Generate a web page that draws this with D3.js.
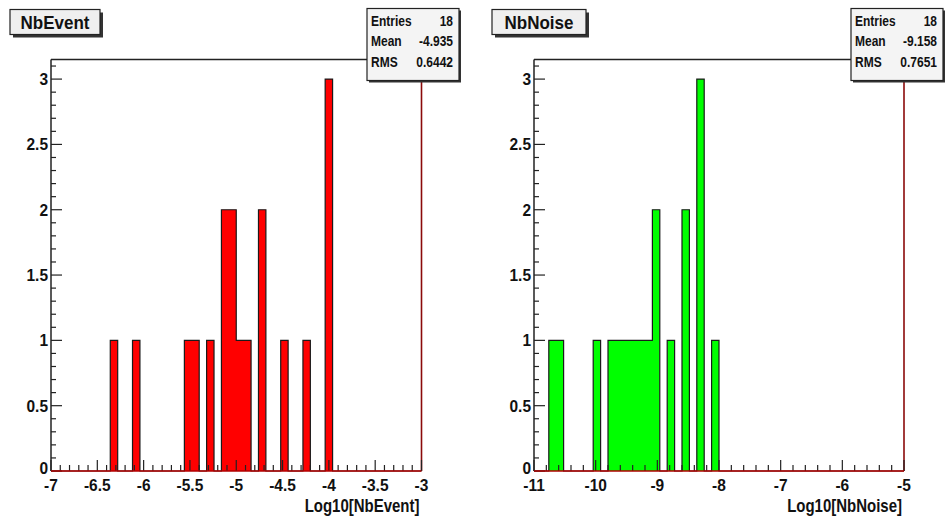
<!DOCTYPE html>
<html><head><meta charset="utf-8">
<script src="https://cdn.jsdelivr.net/npm/d3@7"></script>
<style>
body{margin:0;background:#fff}
svg{display:block}
text{font-family:"Liberation Sans",Arial,Helvetica,sans-serif;font-weight:bold;fill:#111}
</style>
</head><body>
<svg id="c" width="945" height="518"></svg>
<script>
// ---- data ----
const eventRange = [-7, -3];
const eventCounts = [0,0,0,0,0,0,0,0,1,0, 0,1,0,0,0,0,0,0,1,1, 0,1,0,2,2,1,1,0,2,0, 0,1,0,0,1,0,0,3,0,0, 0,0,0,0,0,0,0,0,0,0];
const eventXTickLabels = ["-7","-6.5","-6","-5.5","-5","-4.5","-4","-3.5","-3"];
const eventStatsLabels = ["Entries","Mean","RMS"];
const eventStatsValues = ["18","-4.935","0.6442"];

const noiseRange = [-11, -5];
const noiseCounts = [0,0,1,1,0,0,0,0,1,0, 1,1,1,1,1,1,2,0,1,0, 2,0,3,0,1,0,0,0,0,0, 0,0,0,0,0,0,0,0,0,0, 0,0,0,0,0,0,0,0,0,0];
const noiseXTickLabels = ["-11","-10","-9","-8","-7","-6","-5"];
const noiseStatsLabels = ["Entries","Mean","RMS"];
const noiseStatsValues = ["18","-9.158","0.7651"];

const yTickLabels = ["0","0.5","1","1.5","2","2.5","3"];
const yMax = 3.15;

const svg = d3.select("#c");

// text with vertical stretch (baseline at y)
function stxt(g, x, y, str, size, sy, anchor){
  return g.append("text")
    .attr("transform", `translate(${x},${y}) scale(1,${sy})`)
    .attr("text-anchor", anchor || "start")
    .attr("font-size", size).text(str);
}

function panel(o){
  const g = svg.append("g");
  const x = d3.scaleLinear().domain(o.range).range([o.x0, o.x1]);
  const y = d3.scaleLinear().domain([0, yMax]).range([o.y1, o.y0]);
  const n = o.counts.length;
  const w = (o.range[1]-o.range[0])/n;
  const pts = [];
  o.counts.forEach((c,i)=>{
    const a = o.range[0]+i*w, b = a+w;
    pts.push([a,c],[b,c]);
  });
  const line = d3.line().x(d=>x(d[0])).y(d=>y(d[1]));
  const area = d3.area().x(d=>x(d[0])).y0(y(0)).y1(d=>y(d[1]));
  g.append("path").attr("d", area(pts)).attr("fill", o.fill).attr("stroke","none");
  g.append("path").attr("d", line(pts)).attr("fill","none").attr("stroke","#1a1a1a").attr("stroke-width",1.2);

  // frame top & right
  g.append("line").attr("x1",o.x0).attr("x2",o.x1).attr("y1",o.y0).attr("y2",o.y0)
    .attr("stroke","#222").attr("stroke-width",1.5);
  g.append("line").attr("x1",o.x1).attr("x2",o.x1).attr("y1",o.y0).attr("y2",o.y1)
    .attr("stroke","#8b0a0a").attr("stroke-width",1.6);

  // y axis (ticks inward)
  const yMinor = d3.range(0, yMax+1e-9, 0.1).map(v=>+v.toFixed(2));
  g.selectAll(".ym").data(yMinor).enter().append("line")
    .attr("x1",o.x0).attr("x2",d=> (Math.abs(d*2-Math.round(d*2))<1e-6)? o.x0+11 : o.x0+5)
    .attr("y1",d=>y(d)).attr("y2",d=>y(d)).attr("stroke","#222").attr("stroke-width",1.2);
  g.append("line").attr("x1",o.x0).attr("x2",o.x0).attr("y1",o.y0).attr("y2",o.y1)
    .attr("stroke","#222").attr("stroke-width",1.5);
  yTickLabels.forEach(d=>{
    const v = +d;
    const yy = y(v) + 6 - (v===0 ? 3 : 0);
    stxt(g, o.x0-3, yy, d, 15.5, 1.1, "end");
  });

  // x axis (ticks upward)
  const xMinor = d3.range(o.range[0], o.range[1]+1e-9, o.minor).map(v=>+v.toFixed(3));
  g.selectAll(".xm").data(xMinor).enter().append("line")
    .attr("x1",d=>x(d)).attr("x2",d=>x(d)).attr("y1",o.y1)
    .attr("y2",d=> (Math.abs(d/o.major-Math.round(d/o.major))<1e-6)? o.y1-11 : o.y1-6)
    .attr("stroke","#222").attr("stroke-width",1.2);
  g.append("line").attr("x1",o.x0).attr("x2",o.x1).attr("y1",o.y1).attr("y2",o.y1)
    .attr("stroke","#b00000").attr("stroke-width",1.6);
  o.xLabels.forEach(d=>{
    stxt(g, x(+d), o.y1+20, d, 15.5, 1.1, "middle");
  });
  stxt(g, o.x1-2, o.y1+41, o.xTitle, 15, 1.2, "end");

  // stats box
  const sb = o.stats;
  g.append("rect").attr("x",sb.x+2).attr("y",sb.y+2).attr("width",sb.w).attr("height",sb.h).attr("fill","#333");
  g.append("rect").attr("x",sb.x).attr("y",sb.y).attr("width",sb.w).attr("height",sb.h)
    .attr("fill","#f4f4f4").attr("stroke","#222").attr("stroke-width",1.2);
  o.statLabels.forEach((l,i)=>{
    stxt(g, sb.x+4, sb.y+17+i*20.5, l, 12, 1.25, "start");
    stxt(g, sb.x+sb.w-6, sb.y+17+i*20.5, o.statValues[i], 12, 1.25, "end");
  });

  // title box
  const tb = o.titleBox;
  g.append("rect").attr("x",tb.x+3).attr("y",tb.y+3).attr("width",tb.w).attr("height",tb.h).attr("fill","#333");
  g.append("rect").attr("x",tb.x).attr("y",tb.y).attr("width",tb.w).attr("height",tb.h)
    .attr("fill","#efefef").attr("stroke","#222").attr("stroke-width",1.2);
  stxt(g, tb.x+tb.w/2, tb.y+tb.h/2+6.8, o.title, 17, 1.1, "middle");
}

panel({
  counts: eventCounts, range: eventRange, fill: "#ff0000",
  x0: 51, x1: 421.5, y0: 59.5, y1: 471,
  minor: 0.1, major: 0.5, xLabels: eventXTickLabels, xTitle: "Log10[NbEvent]",
  stats: {x: 367, y: 8.5, w: 92, h: 72}, statLabels: eventStatsLabels, statValues: eventStatsValues,
  titleBox: {x: 10, y: 9.5, w: 90, h: 25}, title: "NbEvent"
});
panel({
  counts: noiseCounts, range: noiseRange, fill: "#00ff00",
  x0: 534, x1: 904, y0: 59.5, y1: 471,
  minor: 0.2, major: 1, xLabels: noiseXTickLabels, xTitle: "Log10[NbNoise]",
  stats: {x: 851, y: 8.5, w: 92, h: 72}, statLabels: noiseStatsLabels, statValues: noiseStatsValues,
  titleBox: {x: 492, y: 9.5, w: 94, h: 25}, title: "NbNoise"
});
</script>
</body></html>
